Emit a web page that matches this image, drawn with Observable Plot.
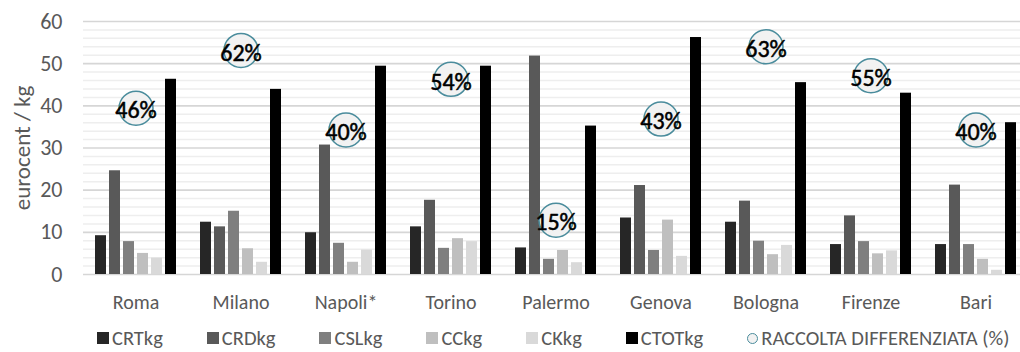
<!DOCTYPE html>
<html><head><meta charset="utf-8">
<script src="https://cdn.jsdelivr.net/npm/d3@7"></script>
<script src="https://cdn.jsdelivr.net/npm/@observablehq/plot@0.6"></script>
<style>
body{margin:0;background:#fff;font-family:Carlito,Calibri,"Liberation Sans Narrow","Open Sans",sans-serif;}
#wrap{position:relative;width:1020px;height:352px;overflow:hidden;}
#chart svg{display:block;}
#legend{position:absolute;left:97px;top:328px;display:flex;gap:44px;align-items:center;font-size:20.5px;color:#595959;line-height:1;white-space:nowrap;}
.item{display:flex;align-items:center;gap:3px}
.sw{width:12px;height:12px;display:inline-block}
.circ{width:9px;height:9px;border:1.5px solid #4a8c9c;border-radius:50%;background:#f2f2f2;display:inline-block}
[aria-label="y-axis tick label"]{font-size:22px;fill:#595959}
[aria-label="fx-axis tick label"]{font-size:20px;fill:#595959}
[aria-label="y-axis label"]{font-size:23px;fill:#595959}
</style>
</head><body><div id="wrap"><div id="chart"></div><div id="legend"></div></div>
<script>
const cities = ["Roma","Milano","Napoli*","Torino","Palermo","Genova","Bologna","Firenze","Bari"];
const series = ["CRTkg","CRDkg","CSLkg","CCkg","CKkg","CTOTkg"];
const CRTkg  = [9.2, 12.4, 9.9, 11.3, 6.3, 13.4, 12.4, 7.1, 7.1];
const CRDkg  = [24.6, 11.3, 30.7, 17.6, 51.8, 21.1, 17.4, 13.9, 21.2];
const CSLkg  = [7.8, 15.0, 7.4, 6.2, 3.6, 5.7, 7.9, 7.8, 7.1];
const CCkg   = [5.0, 6.1, 2.9, 8.5, 5.7, 12.9, 4.7, 4.9, 3.6];
const CKkg   = [3.9, 2.9, 5.8, 7.8, 2.8, 4.3, 6.9, 5.6, 1.0];
const CTOTkg = [46.3, 43.9, 49.4, 49.4, 35.2, 56.2, 45.5, 43.0, 36.0];
const raccolta = [46, 62, 40, 54, 15, 43, 63, 55, 40];
const seriesColors = ["#262626","#595959","#7f7f7f","#bfbfbf","#d9d9d9","#000000"];
const yTicks = [0, 10, 20, 30, 40, 50, 60];
const minorTicks = [2,4,6,8,12,14,16,18,22,24,26,28,32,34,36,38,42,44,46,48,52,54,56,58];
const pctMax = 70; // hidden secondary axis max (%)
const yMax = 60;
const legendLabel = "RACCOLTA DIFFERENZIATA (%)";

const seriesValues = [CRTkg, CRDkg, CSLkg, CCkg, CKkg, CTOTkg];
const rows = cities.flatMap((c, i) => series.map((s, j) => ({city: c, series: s, value: seriesValues[j][i]})));
const pct = cities.map((c, i) => ({city: c, pct: raccolta[i]}));
const py = d => d.pct * yMax / pctMax;

const chart = Plot.plot({
  width: 1020, height: 320,
  marginLeft: 81, marginRight: -10, marginTop: 21, marginBottom: 46,
  style: {fontFamily: 'Carlito, Calibri, "Liberation Sans Narrow", "Open Sans", sans-serif', background: "transparent", overflow: "hidden"},
  fx: {domain: cities, padding: 0, label: null, tickSize: 0, tickPadding: 20, axis: "bottom"},
  x: {domain: series, axis: null, paddingInner: 0.2, paddingOuter: 0.61},
  y: {domain: [0, yMax], ticks: yTicks, tickSize: 0, tickPadding: 21, label: "eurocent / kg", labelAnchor: "center", labelArrow: "none", labelOffset: 70},
  color: {domain: series, range: seriesColors},
  marks: [
    Plot.ruleY(minorTicks, {stroke: "#eeeeee", strokeWidth: 1.5}),
    Plot.ruleY(yTicks, {stroke: "#d6d6d6", strokeWidth: 1.6}),
    Plot.barY(rows, {fx: "city", x: "series", y: "value", fill: "series"}),
    Plot.dot(pct, {fx: "city", y: py, r: 17, fill: "#f2f2f2", stroke: "#4a8c9c", strokeWidth: 1.5}),
    Plot.text(pct, {fx: "city", y: py, dy: 2.5, text: d => d.pct + "%", fontSize: 24, fill: "#000", stroke: "#000", strokeWidth: 0.5})
  ]
});
document.getElementById("chart").appendChild(chart);

const legend = document.getElementById("legend");
series.forEach((s, i) => {
  const it = document.createElement("div"); it.className = "item";
  const sw = document.createElement("span"); sw.className = "sw"; sw.style.background = seriesColors[i];
  const t = document.createElement("span"); t.textContent = s;
  it.append(sw, t); legend.appendChild(it);
});
{
  const it = document.createElement("div"); it.className = "item";
  const sw = document.createElement("span"); sw.className = "circ";
  const t = document.createElement("span"); t.textContent = legendLabel;
  it.append(sw, t); legend.appendChild(it);
}
</script>
</body></html>
